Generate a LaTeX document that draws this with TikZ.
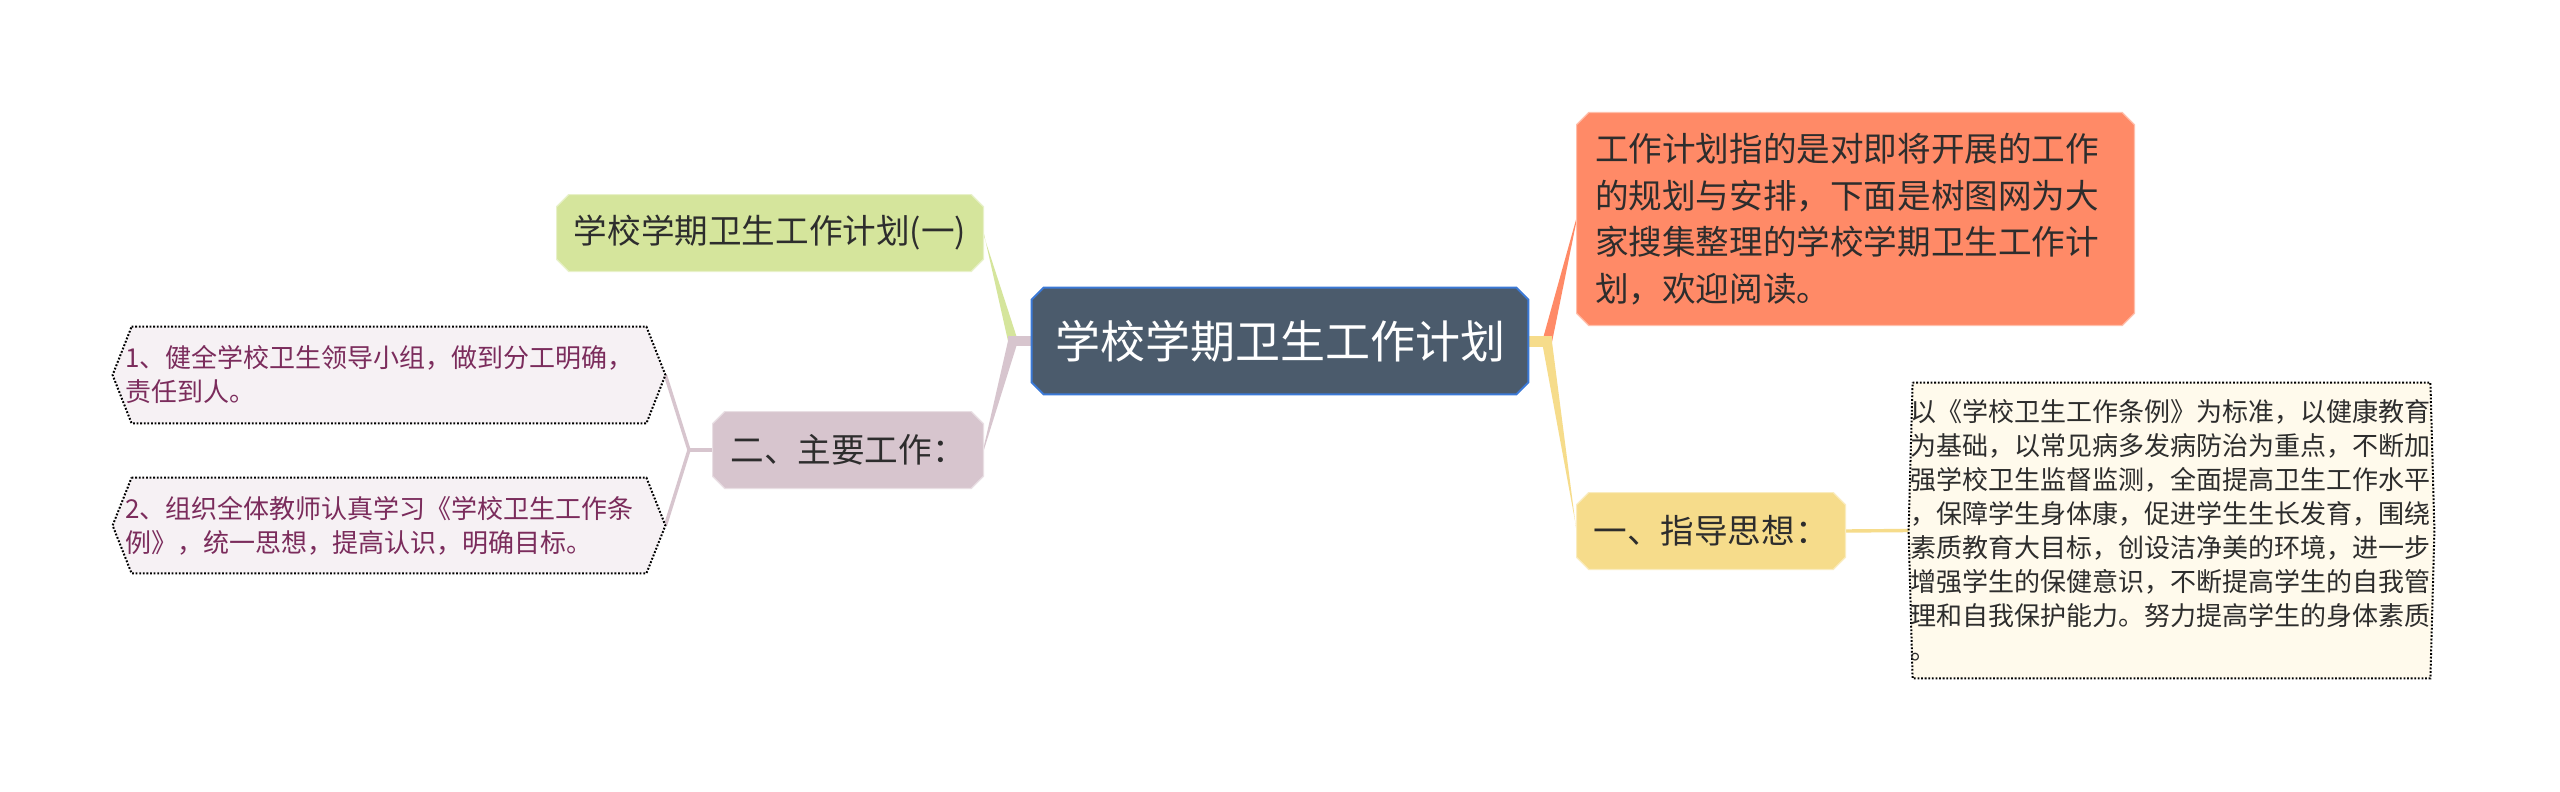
\documentclass[tikz,border=0pt]{standalone}
\usepackage{fontspec}
\newfontfamily\cjk{Noto Sans CJK SC}
\usetikzlibrary{calc,backgrounds}
\definecolor{rootfill}{HTML}{4B5B6C}
\definecolor{rootdraw}{HTML}{3B79D6}
\definecolor{orangeC}{HTML}{FF8A67}
\definecolor{greenC}{HTML}{D5E59C}
\definecolor{mauveC}{HTML}{D7C5CE}
\definecolor{yellowC}{HTML}{F6DC8B}
\definecolor{creamC}{HTML}{FFFAEC}
\definecolor{pinkC}{HTML}{F6F1F4}
\definecolor{maroonT}{HTML}{7B2C5C}
\definecolor{darkT}{HTML}{2D2D2D}
\newcommand\octshape[3]{%
  \path[#3] ($(#1.north west)+(#2,0)$) -- ($(#1.north east)+(-#2,0)$) -- ($(#1.north east)+(0,#2)$) -- ($(#1.south east)+(0,-#2)$) -- ($(#1.south east)+(-#2,0)$) -- ($(#1.south west)+(#2,0)$) -- ($(#1.south west)+(0,-#2)$) -- ($(#1.north west)+(0,#2)$) -- cycle;}
\newcommand\hexshape[3]{%
  \path[#3] ($(#1.north west)+(#2,0)$) -- ($(#1.north east)+(-#2,0)$) -- (#1.east) -- ($(#1.south east)+(-#2,0)$) -- ($(#1.south west)+(#2,0)$) -- (#1.west) -- cycle;}
\begin{document}
\begin{tikzpicture}[x=0.5pt,y=-0.5pt,
  box/.style={rectangle, inner sep=0pt, draw=none},
  bigfont/.style={font=\cjk\fontsize{22.5pt}{27pt}\selectfont},
  midfont/.style={font=\cjk\fontsize{16.8pt}{23.25pt}\selectfont},
  smallfont/.style={font=\cjk\fontsize{13pt}{17pt}\selectfont},
  solidbox/.style={fill=#1, draw=#1!55!white, line width=0.6pt},
  dotbox/.style={fill=#1, draw=black, line width=1pt, dash pattern=on 0.9pt off 0.9pt},
  wedge/.style={fill=#1},
  thinlink/.style={draw=#1, line width=1.7pt, line join=round}]
\useasboundingbox (0,0) rectangle (2560,792);

% nodes
\node[box, bigfont, text=white, minimum width=248pt, minimum height=53pt] (root) at (1280,341) {学校学期卫生工作计划};
\node[box, midfont, text=darkT, minimum width=278.5pt, minimum height=106pt, text width=260.5pt, align=left] (intro) at (1855.5,219)
  {工作计划指的是对即将开展的工作\\的规划与安排，下面是树图网为大\\家搜集整理的学校学期卫生工作计\\划，欢迎阅读。};
\node[box, midfont, text=darkT, minimum width=213pt, minimum height=38pt] (plan1) at (770,233) {学校学期卫生工作计划(一)};
\node[box, midfont, text=darkT, minimum width=135pt, minimum height=38pt] (work) at (848,450) {二、主要工作：};
\node[box, midfont, text=darkT, minimum width=134pt, minimum height=38pt] (guide) at (1711,531) {一、指导思想：};
\node[box, smallfont, text=darkT, minimum width=262.5pt, minimum height=147.5pt, text width=261pt, align=left] (guidetext) at (2171.5,530.5)
  {以《学校卫生工作条例》为标准，以健康教育\\为基础，以常见病多发病防治为重点，不断加\\强学校卫生监督监测，全面提高卫生工作水平\\，保障学生身体康，促进学生生长发育，围绕\\素质教育大目标，创设洁净美的环境，进一步\\增强学生的保健意识，不断提高学生的自我管\\理和自我保护能力。努力提高学生的身体素质\\。};
\node[box, smallfont, text=maroonT, minimum width=276pt, minimum height=48pt, text width=264pt, align=left] (work1) at (389,375)
  {1、健全学校卫生领导小组，做到分工明确，\\责任到人。};
\node[box, smallfont, text=maroonT, minimum width=276pt, minimum height=47.5pt, text width=264pt, align=left] (work2) at (389,525.5)
  {2、组织全体教师认真学习《学校卫生工作条\\例》，统一思想，提高认识，明确目标。};

\coordinate (jr) at (1547,342);
\coordinate (jl) at (1013,341);
\coordinate (jm) at (689,450);

\begin{scope}[on background layer]
  \fill[white] (0,0) rectangle (2560,792);
  % right branches
  \path[wedge=orangeC] ($(jr)+(-5,0)$) -- ($(jr)+(5,0)$) -- ($(intro.west)+(0,1.5)$) -- ($(intro.west)+(0,-1.5)$) -- cycle;
  \fill[yellowC] ($(root.east)+(0,-5)$) rectangle ($(jr)+(5,5)$);
  \path[wedge=yellowC] ($(jr)+(-5,0)$) -- ($(jr)+(5,0)$) -- ($(guide.west)+(0,1.5)$) -- ($(guide.west)+(0,-1.5)$) -- cycle;
  % left branches
  \path[wedge=greenC] ($(jl)+(-5,0)$) -- ($(jl)+(5,0)$) -- ($(plan1.east)+(0,1.5)$) -- ($(plan1.east)+(0,-1.5)$) -- cycle;
  \fill[mauveC] ($(root.west)+(0,-5)$) rectangle ($(jl)+(-5,5)$);
  \path[wedge=mauveC] ($(jl)+(-5,0)$) -- ($(jl)+(5,0)$) -- ($(work.east)+(0,1.5)$) -- ($(work.east)+(0,-1.5)$) -- cycle;
  % sub links
  \draw[mauveC, line width=2pt] (work.west) -- (jm);
  \draw[thinlink=mauveC] (work1.east) -- (jm) -- (work2.east);
  \draw[thinlink=yellowC] (guide.east) -- (guidetext.west);
  % shapes
  \octshape{root}{12}{fill=rootfill, draw=rootdraw, line width=1pt}
  \octshape{intro}{12}{solidbox=orangeC}
  \octshape{plan1}{12}{solidbox=greenC}
  \octshape{work}{12}{solidbox=mauveC}
  \octshape{guide}{12}{solidbox=yellowC}
  \hexshape{guidetext}{4}{dotbox=creamC}
  \hexshape{work1}{19}{dotbox=pinkC}
  \hexshape{work2}{19}{dotbox=pinkC}
\end{scope}
\end{tikzpicture}
\end{document}
